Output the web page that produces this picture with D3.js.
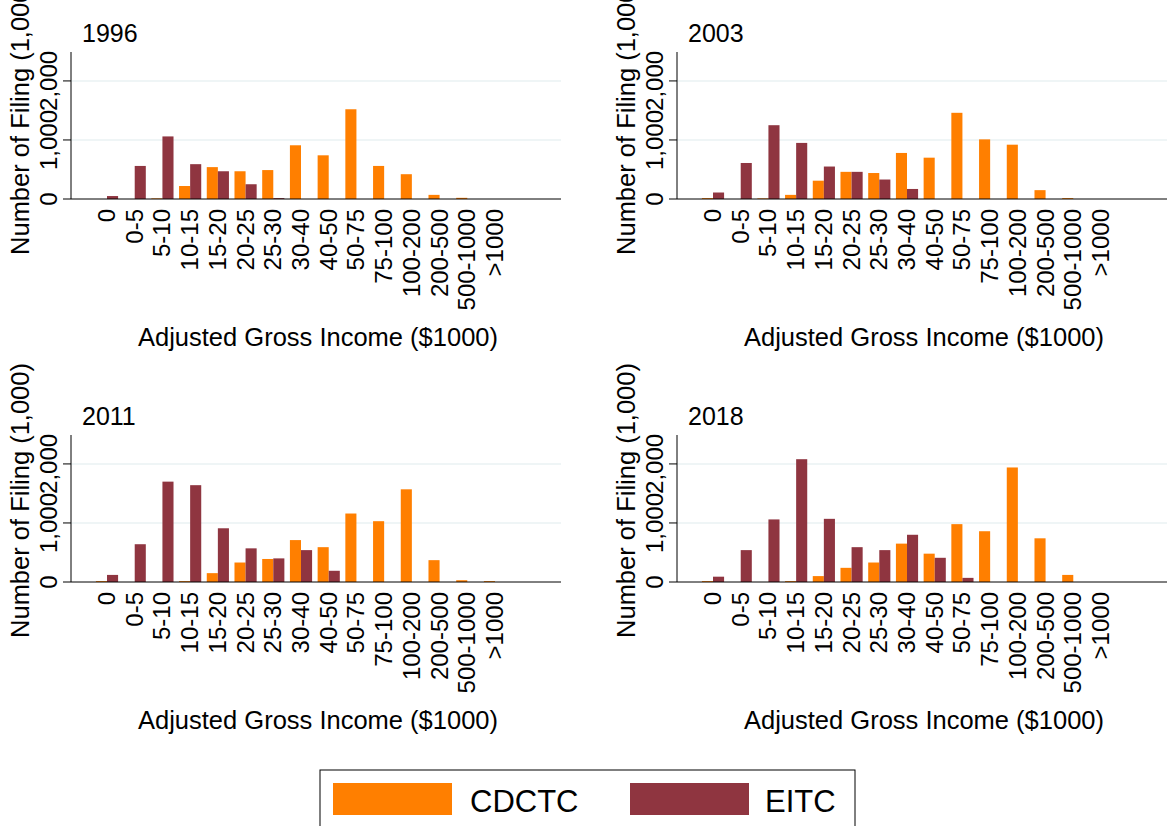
<!DOCTYPE html><html><head><meta charset="utf-8"><script src="https://cdn.jsdelivr.net/npm/d3@7"></script>
<style>body{margin:0;background:#fff}text{font-family:"Liberation Sans",Arial,sans-serif;fill:#000}</style></head><body><svg id="c" width="1168" height="826"></svg><script>
const categories=["0","0-5","5-10","10-15","15-20","20-25","25-30","30-40","40-50","50-75","75-100","100-200","200-500","500-1000",">1000"];
const years=["1996","2003","2011","2018"];
const cdctc1996=[0,0,10,220,540,470,490,910,740,1520,560,420,70,20,0];
const eitc1996=[50,560,1060,590,470,250,15,0,0,0,0,0,0,0,0];
const cdctc2003=[15,0,10,70,310,460,440,780,700,1460,1010,920,150,15,0];
const eitc2003=[110,610,1250,950,550,460,330,170,0,0,0,0,0,0,0];
const cdctc2011=[15,0,0,15,150,330,390,710,590,1160,1030,1570,370,30,15];
const eitc2011=[120,640,1700,1640,910,570,400,540,190,0,0,0,0,0,0];
const cdctc2018=[15,0,0,15,100,240,330,650,480,980,860,1940,740,120,0];
const eitc2018=[90,540,1060,2080,1070,590,540,800,410,70,0,0,0,0,0];
const yTicks=[0,1000,2000];
const series=[[cdctc1996,eitc1996],[cdctc2003,eitc2003],[cdctc2011,eitc2011],[cdctc2018,eitc2018]];
const colors=["#ff7f00","#8f3540"];
const svg=d3.select("#c");
const pos=[[71,52],[677,52],[71,435],[677,435]];
const FS=24;
years.forEach((yr,i)=>{
 const [x0,y0]=pos[i];const g=svg.append("g").attr("transform",`translate(${x0},${y0})`);
 const W=490,H=147;
 const y=d3.scaleLinear().domain([0,2490]).range([H,0]);
 const st=(424-36)/14;
 const x=d3.scaleBand().domain(categories).range([36-st/2,424+st/2]).paddingInner(0.2).paddingOuter(0.1);
 yTicks.slice(1).forEach(t=>g.append("line").attr("x1",0).attr("x2",W).attr("y1",y(t)).attr("y2",y(t)).attr("stroke","#eaf2f3").attr("stroke-width",1.5));
 const bw=x.bandwidth()/2;
 series[i].forEach((vals,s)=>{
  g.selectAll(null).data(vals).join("rect").attr("x",(d,j)=>x(categories[j])+s*bw).attr("width",bw)
   .attr("y",d=>y(d)).attr("height",d=>H-y(d)).attr("fill",colors[s]);
 });
 g.append("line").attr("x1",0).attr("x2",W).attr("y1",H).attr("y2",H).attr("stroke","#000");
 g.append("line").attr("x1",0).attr("x2",0).attr("y1",0).attr("y2",H).attr("stroke","#000");
 yTicks.forEach(t=>{g.append("line").attr("x1",-8).attr("x2",0).attr("y1",y(t)).attr("y2",y(t)).attr("stroke","#000");
  g.append("text").attr("transform",`translate(-14,${y(t)}) rotate(-90)`).attr("text-anchor","middle").attr("font-size",FS).text(d3.format(",")(t));});
 categories.forEach(c=>g.append("text").attr("transform",`translate(${x(c)+x.bandwidth()/2+8},${H+10}) rotate(-90)`).attr("text-anchor","end").attr("font-size",FS).text(c));
 g.append("text").attr("x",11).attr("y",-10).attr("font-size",25).text(yr);
 g.append("text").attr("x",247).attr("y",294).attr("text-anchor","middle").attr("font-size",25.5).text("Adjusted Gross Income ($1000)");
 g.append("text").attr("transform",`translate(-42,${H/2-8}) rotate(-90)`).attr("text-anchor","middle").attr("font-size",25.5).text("Number of Filing (1,000)");
});
const lg=svg.append("g");
lg.append("rect").attr("x",320).attr("y",770).attr("width",535).attr("height",58).attr("fill","#fff").attr("stroke","#000");
[["CDCTC",333,470],["EITC",630,765]].forEach((d,i)=>{lg.append("rect").attr("x",d[1]).attr("y",783).attr("width",119).attr("height",32).attr("fill",colors[i]);
 lg.append("text").attr("x",d[2]).attr("y",812).attr("font-size",31).text(d[0]);});
</script></body></html>
